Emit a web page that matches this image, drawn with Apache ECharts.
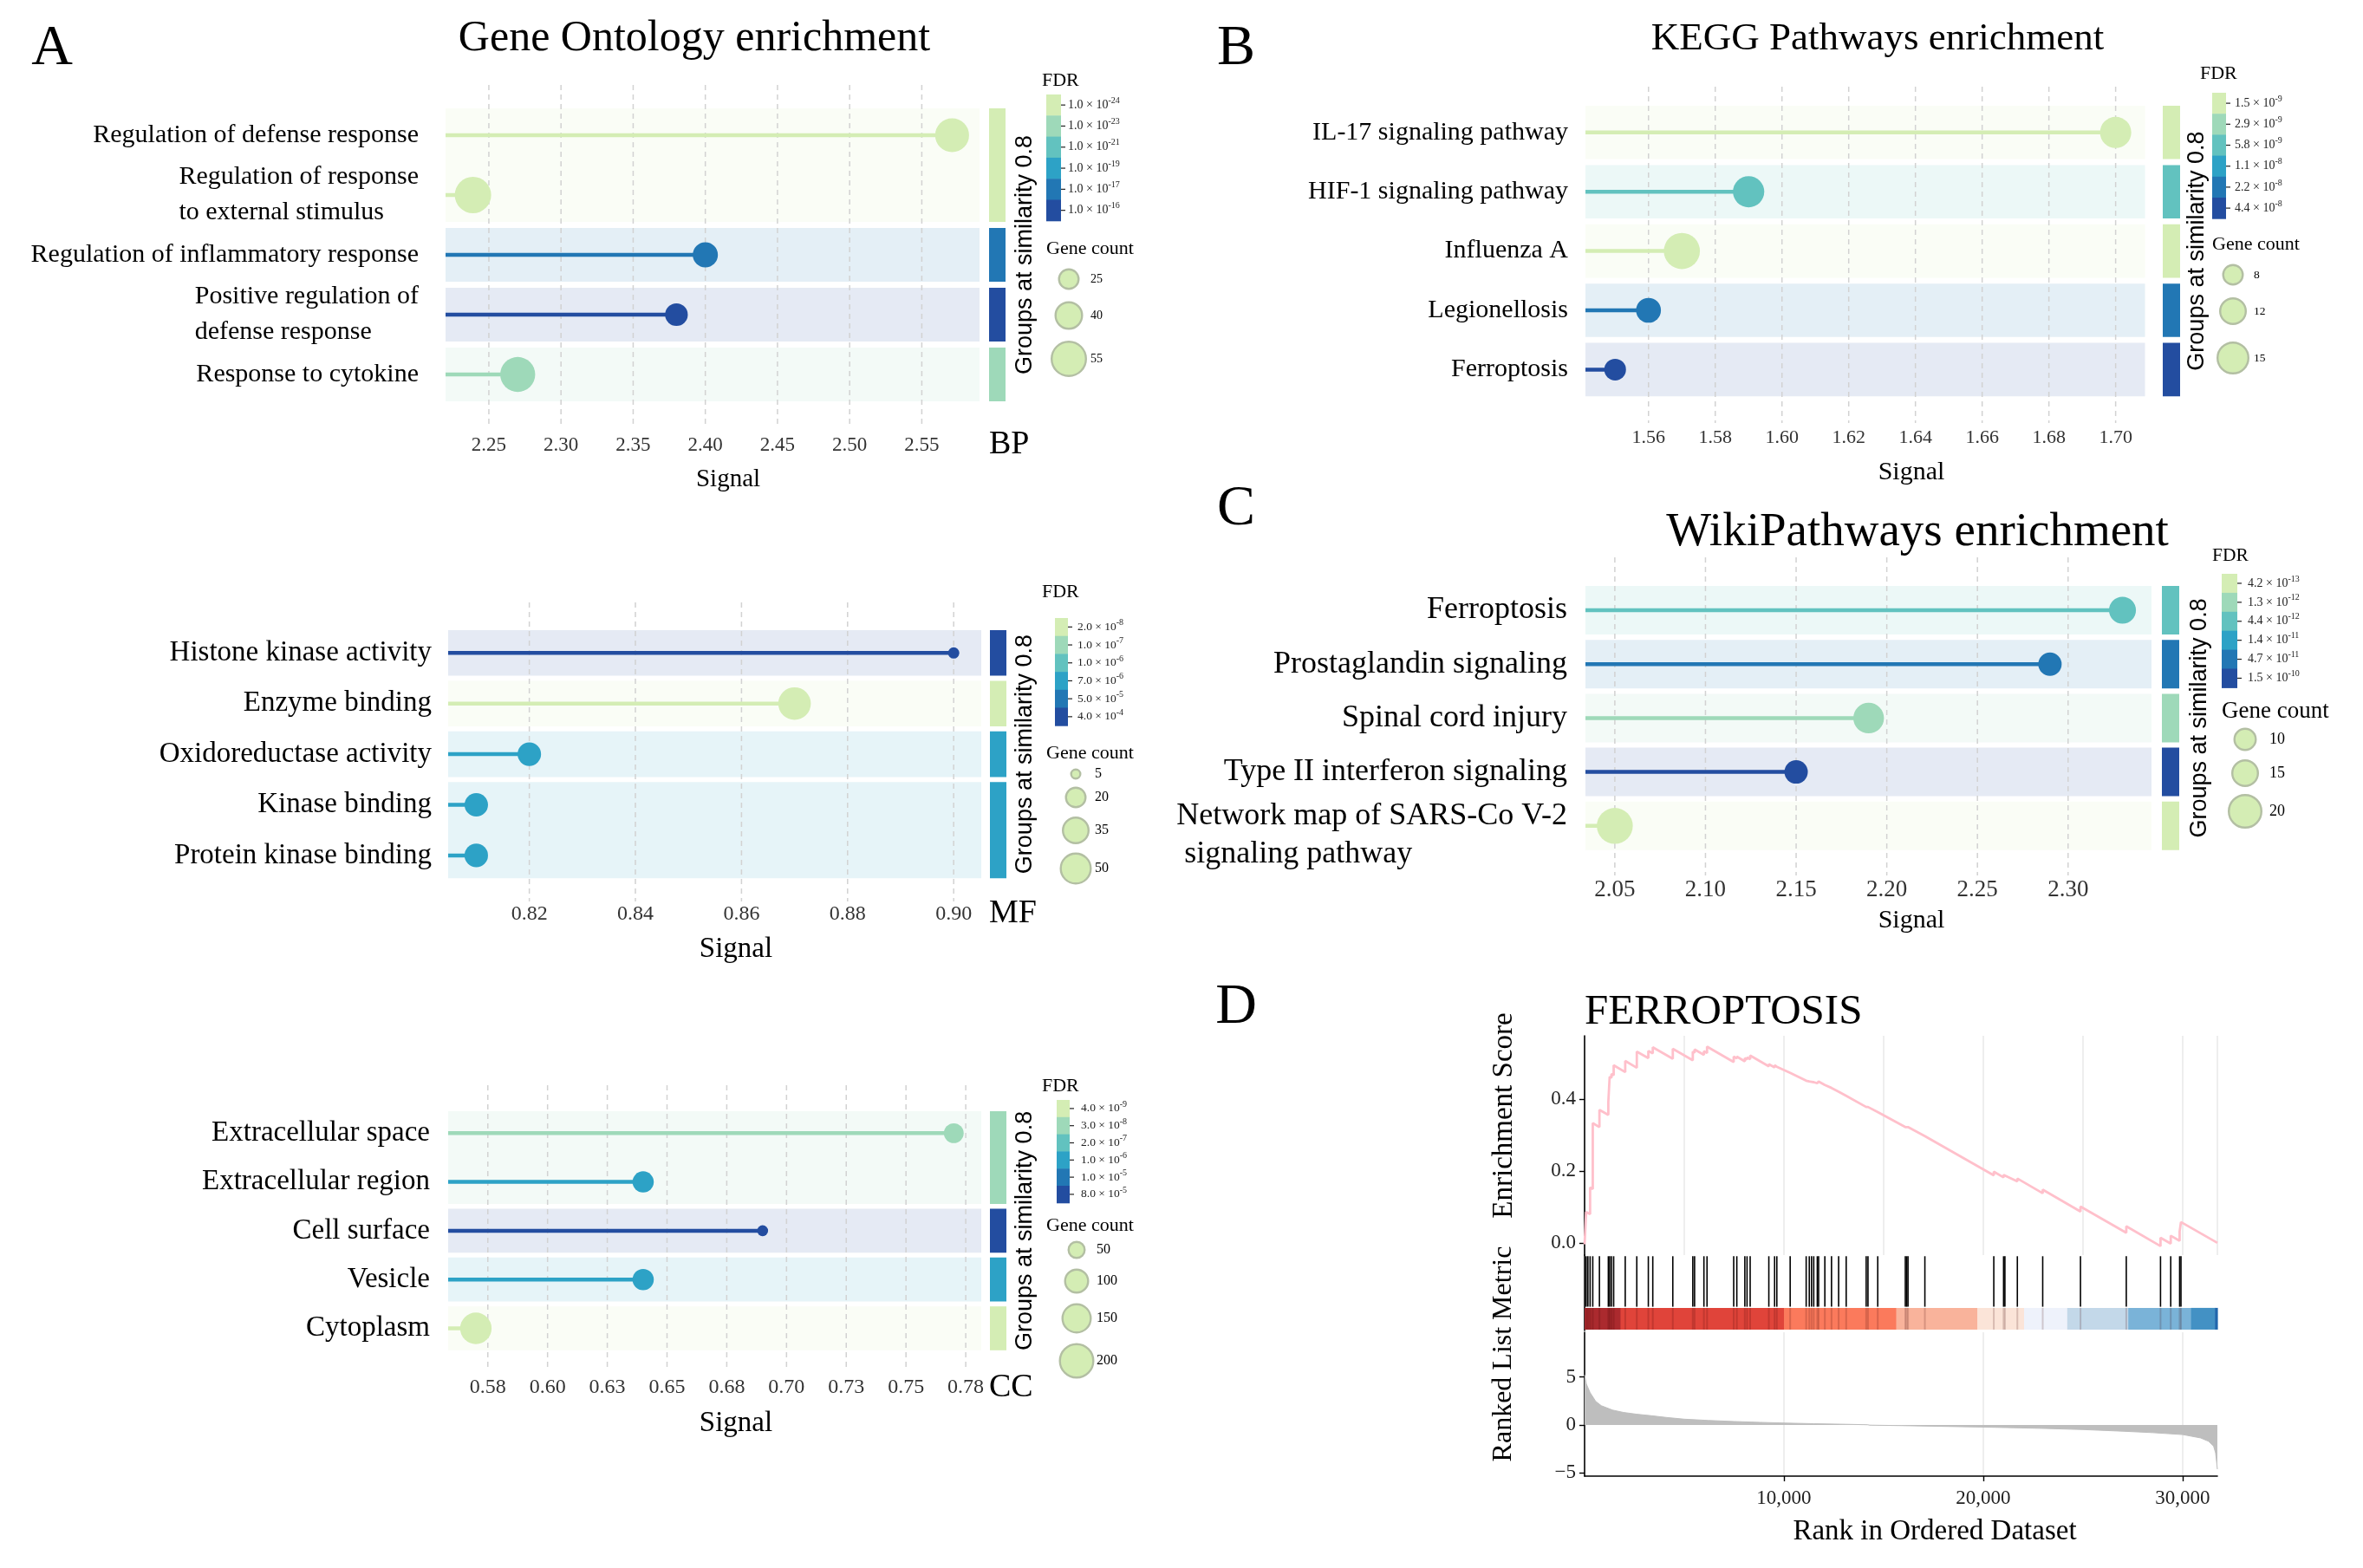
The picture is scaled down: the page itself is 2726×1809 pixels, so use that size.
<!DOCTYPE html>
<html><head><meta charset="utf-8">
<script src="https://cdn.jsdelivr.net/npm/echarts@6/dist/echarts.min.js"></script>
<style>html,body{margin:0;padding:0;background:#fff}#c{width:2726px;height:1809px}</style>
</head><body><div id="c"></div>
<script>
// ===================== DATA =====================
// FDR colour classes (lightest -> darkest)
const PAL = ['#d4edb4', '#9ed9b9', '#62c2bf', '#2da2c6', '#2277b4', '#234da0'];

// A - GO BP
const bpTerms = ['Regulation of defense response', 'Regulation of response\nto external stimulus', 'Regulation of inflammatory response', 'Positive regulation of\ndefense response', 'Response to cytokine'];
const bpSignal = [2.571, 2.239, 2.400, 2.380, 2.270];
const bpGeneCount = [50, 55, 32, 27, 52];
const bpFdrClass = [0, 0, 4, 5, 1];
const bpGroups = [[0, 1, 0], [2, 2, 4], [3, 3, 5], [4, 4, 1]];
const bpTicks = [2.25, 2.30, 2.35, 2.40, 2.45, 2.50, 2.55];
const bpTickLabels = ['2.25', '2.30', '2.35', '2.40', '2.45', '2.50', '2.55'];
const bpFdrLegend = [['1.0', '-24'], ['1.0', '-23'], ['1.0', '-21'], ['1.0', '-19'], ['1.0', '-17'], ['1.0', '-16']];
const bpCountLegend = [25, 40, 55];

// A - GO MF
const mfTerms = ['Histone kinase activity', 'Enzyme binding', 'Oxidoreductase activity', 'Kinase binding', 'Protein kinase binding'];
const mfSignal = [0.900, 0.870, 0.820, 0.810, 0.810];
const mfGeneCount = [5, 52, 24, 24, 24];
const mfFdrClass = [5, 0, 3, 3, 3];
const mfGroups = [[0, 0, 5], [1, 1, 0], [2, 2, 3], [3, 4, 3]];
const mfTicks = [0.82, 0.84, 0.86, 0.88, 0.90];
const mfTickLabels = ['0.82', '0.84', '0.86', '0.88', '0.90'];
const mfFdrLegend = [['2.0', '-8'], ['1.0', '-7'], ['1.0', '-6'], ['7.0', '-6'], ['5.0', '-5'], ['4.0', '-4']];
const mfCountLegend = [5, 20, 35, 50];

// A - GO CC
const ccTerms = ['Extracellular space', 'Extracellular region', 'Cell surface', 'Vesicle', 'Cytoplasm'];
const ccSignal = [0.770, 0.640, 0.690, 0.640, 0.570];
const ccGeneCount = [60, 70, 16, 70, 160];
const ccFdrClass = [1, 3, 5, 3, 0];
const ccGroups = [[0, 1, 1], [2, 2, 5], [3, 3, 3], [4, 4, 0]];
const ccTicks = [0.575, 0.600, 0.625, 0.650, 0.675, 0.700, 0.725, 0.750, 0.775];
const ccTickLabels = ['0.58', '0.60', '0.63', '0.65', '0.68', '0.70', '0.73', '0.75', '0.78'];
const ccFdrLegend = [['4.0', '-9'], ['3.0', '-8'], ['2.0', '-7'], ['1.0', '-6'], ['1.0', '-5'], ['8.0', '-5']];
const ccCountLegend = [50, 100, 150, 200];

// B - KEGG
const keggTerms = ['IL-17 signaling pathway', 'HIF-1 signaling pathway', 'Influenza A', 'Legionellosis', 'Ferroptosis'];
const keggSignal = [1.700, 1.590, 1.570, 1.560, 1.550];
const keggGeneCount = [14, 14, 17, 10, 8];
const keggFdrClass = [0, 2, 0, 4, 5];
const keggGroups = [[0, 0, 0], [1, 1, 2], [2, 2, 0], [3, 3, 4], [4, 4, 5]];
const keggTicks = [1.56, 1.58, 1.60, 1.62, 1.64, 1.66, 1.68, 1.70];
const keggTickLabels = ['1.56', '1.58', '1.60', '1.62', '1.64', '1.66', '1.68', '1.70'];
const keggFdrLegend = [['1.5', '-9'], ['2.9', '-9'], ['5.8', '-9'], ['1.1', '-8'], ['2.2', '-8'], ['4.4', '-8']];
const keggCountLegend = [8, 12, 15];

// C - WikiPathways
const wikiTerms = ['Ferroptosis', 'Prostaglandin signaling', 'Spinal cord injury', 'Type II interferon signaling', 'Network map of SARS-Co V-2\n signaling pathway'];
const wikiSignal = [2.330, 2.290, 2.190, 2.150, 2.050];
const wikiGeneCount = [14, 10, 17, 10, 21];
const wikiFdrClass = [2, 4, 1, 5, 0];
const wikiGroups = [[0, 0, 2], [1, 1, 4], [2, 2, 1], [3, 3, 5], [4, 4, 0]];
const wikiTicks = [2.05, 2.10, 2.15, 2.20, 2.25, 2.30];
const wikiTickLabels = ['2.05', '2.10', '2.15', '2.20', '2.25', '2.30'];
const wikiFdrLegend = [['4.2', '-13'], ['1.3', '-12'], ['4.4', '-12'], ['1.4', '-11'], ['4.7', '-11'], ['1.5', '-10']];
const wikiCountLegend = [10, 15, 20];

// D - GSEA FERROPTOSIS
const gseaN = 31740;
const esCurve = [[0,-0.004],[76,-0.006],[76,0.086],[277,0.080],[277,0.154],[411,0.150],[411,0.333],[745,0.322],[745,0.370],[1191,0.356],[1191,0.392],[1258,0.390],[1258,0.462],[1348,0.459],[1348,0.470],[1459,0.466],[1459,0.494],[2039,0.475],[2039,0.506],[2619,0.487],[2619,0.532],[3198,0.514],[3198,0.534],[3421,0.527],[3421,0.544],[4425,0.512],[4425,0.540],[5428,0.508],[5428,0.532],[5518,0.529],[5518,0.538],[5986,0.523],[5986,0.533],[6142,0.528],[6142,0.546],[7480,0.503],[7480,0.518],[7636,0.513],[7636,0.518],[8038,0.505],[8038,0.514],[8149,0.510],[8149,0.516],[8305,0.511],[8305,0.521],[9242,0.491],[9242,0.497],[9532,0.488],[9532,0.494],[9643,0.490],[9643,0.494],[10312,0.473],[10312,0.477],[11115,0.451],[11115,0.454],[11271,0.449],[11271,0.452],[11383,0.448],[11383,0.451],[11494,0.447],[11494,0.450],[11672,0.444],[11672,0.448],[11739,0.446],[11739,0.449],[12052,0.439],[12052,0.442],[12386,0.431],[12386,0.432],[12743,0.4205],[12743,0.4215],[13122,0.409],[13122,0.410],[14125,0.378],[14125,0.381],[14215,0.378],[14215,0.380],[14705,0.364],[14705,0.366],[16088,0.322],[16088,0.324],[16155,0.322],[16155,0.324],[16222,0.322],[16222,0.324],[17069,0.297],[17069,0.299],[20526,0.188],[20526,0.198],[21016,0.182],[21016,0.189],[21083,0.187],[21083,0.191],[21707,0.171],[21707,0.179],[22979,0.138],[22979,0.148],[24874,0.087],[24874,0.101],[27171,0.028],[27171,0.046],[28888,-0.009],[28888,0.014],[29401,-0.002],[29401,0.020],[29847,0.006],[29847,0.032],[29914,0.030],[29914,0.058],[31740,0.000]];
const hitRanks = [76,166,277,411,745,1191,1258,1348,1459,2039,2619,3198,3421,4425,5428,5518,5986,6142,7480,7636,8038,8149,8305,9242,9532,9643,10312,11115,11271,11383,11494,11672,11739,12052,12386,12743,13122,14125,14215,14705,16088,16155,16222,17069,20526,21016,21083,21707,22979,24874,27171,28888,29401,29847,29914];
const bandStart = [0, 1800, 10000, 15630, 19700, 22045, 24210, 27270, 30420, 31620];
const bandEnd = [1800, 10000, 15630, 19700, 22045, 24210, 27270, 30420, 31620, 31740];
const bandColors = ['#ab2a2e', '#e0443a', '#fb7a5c', '#f9b39b', '#fbe4d8', '#eef2fb', '#c3d8e9', '#7ab3d8', '#4391c4', '#2166ac'];
const rankMetric = [[0,5.2],[90,4.25],[280,3.35],[560,2.45],[840,2.0],[1400,1.55],[1950,1.3],[2600,1.12],[3350,0.96],[4100,0.78],[5000,0.6],[6200,0.47],[7500,0.36],[8800,0.27],[10000,0.2],[11500,0.13],[13100,0.07],[14200,0.02],[14300,-0.02],[15900,-0.07],[18000,-0.15],[20000,-0.22],[22800,-0.35],[25000,-0.48],[27000,-0.65],[28500,-0.80],[30000,-1.0],[30900,-1.35],[31300,-1.7],[31550,-2.2],[31650,-2.9],[31700,-3.8],[31740,-4.6]];
const esTicks = [0, 0.2, 0.4];
const esTickLabels = ['0.0', '0.2', '0.4'];
const metricTicks = [-5, 0, 5];
const metricTickLabels = ['\u22125', '0', '5'];
const rankTicks = [10000, 20000, 30000];
const rankTickLabels = ['10,000', '20,000', '30,000'];

// ===================== LAYOUT / STYLE =====================
const SERIF = '"Liberation Serif", "Times New Roman", serif';
const SANS = '"Liberation Sans", Arial, sans-serif';
const LAY = {
  bp: {left:514, right:1130, top:98, bottom:494, firstY:156, pitch:69, xMin:2.220, xMax:2.590, labFont:30, labMargin:29, lineH:41, lift:0, tickFont:23, tickMargin:8, barGap:11, barW:19,
       sig:[840,553,29], tag:[1141,513,38], grpX:1183,
       fdr:{tx:1202, ty:93, tf:22, bx:1207, bw:17, by:109, bh:24.3, lx:1232, lf:14},
       gene:{tx:1207, ty:287, tf:22, cx:1233, cy:[322,364,414], d:[25,33,42], lx:1258, lf:14}},
  mf: {left:517, right:1132, top:695, bottom:1040, firstY:753.3, pitch:58.4, xMin:0.8047, xMax:0.9052, labFont:33, labMargin:17, lineH:44, lift:0, tickFont:24, tickMargin:3, barGap:10, barW:19,
       sig:[849,1095,33], tag:[1141,1054,38], grpX:1183,
       fdr:{tx:1202, ty:683, tf:22, bx:1217, bw:15, by:713, bh:20.7, lx:1243, lf:13.5},
       gene:{tx:1207, ty:869, tf:22, cx:1241, cy:[893,920,958,1002], d:[13,25,32,37], lx:1263, lf:16}},
  cc: {left:517, right:1132, top:1252, bottom:1580, firstY:1307.3, pitch:56.3, xMin:0.5584, xMax:0.7815, labFont:33, labMargin:19, lineH:44, lift:0, tickFont:24, tickMargin:9, barGap:10, barW:19,
       sig:[849,1642,33], tag:[1141,1601,38], grpX:1183,
       fdr:{tx:1202, ty:1253, tf:22, bx:1219, bw:15, by:1269, bh:19.8, lx:1247, lf:13.5},
       gene:{tx:1207, ty:1414, tf:22, cx:1242, cy:[1442,1478,1521,1570], d:[21,29,35,41], lx:1265, lf:16}},
  kegg: {left:1829, right:2474.5, top:100, bottom:488, firstY:152.8, pitch:68.4, xMin:1.5411, xMax:1.7088, labFont:30, labMargin:18, lineH:40, lift:0, tickFont:22, tickMargin:6, barGap:20.5, barW:20,
       sig:[2205,545,30], tag:null, grpX:2535,
       fdr:{tx:2538, ty:85, tf:22, bx:2552, bw:16, by:107, bh:24.2, lx:2578, lf:14},
       gene:{tx:2552, ty:282, tf:22, cx:2576, cy:[317,359,413], d:[25,32,38], lx:2600, lf:13.5}},
  wiki: {left:1829, right:2482, top:643, bottom:1010, firstY:704, pitch:62.2, xMin:2.0338, xMax:2.3460, labFont:36, labMargin:19, lineH:44, lift:22, tickFont:27, tickMargin:3, barGap:12, barW:20,
       sig:[2205,1062,30], tag:null, grpX:2538,
       fdr:{tx:2552, ty:641, tf:21.5, bx:2563, bw:18, by:662, bh:21.9, lx:2593, lf:14},
       gene:{tx:2563, ty:821, tf:27, cx:2590, cy:[853,892,936], d:[27,32,40], lx:2618, lf:18}}
};

const panels = [
  {terms:bpTerms, signal:bpSignal, counts:bpGeneCount, cls:bpFdrClass, groups:bpGroups, ticks:bpTicks, tickLabels:bpTickLabels, fdr:bpFdrLegend, legCounts:bpCountLegend, tagText:'BP', L:LAY.bp},
  {terms:mfTerms, signal:mfSignal, counts:mfGeneCount, cls:mfFdrClass, groups:mfGroups, ticks:mfTicks, tickLabels:mfTickLabels, fdr:mfFdrLegend, legCounts:mfCountLegend, tagText:'MF', L:LAY.mf},
  {terms:ccTerms, signal:ccSignal, counts:ccGeneCount, cls:ccFdrClass, groups:ccGroups, ticks:ccTicks, tickLabels:ccTickLabels, fdr:ccFdrLegend, legCounts:ccCountLegend, tagText:'CC', L:LAY.cc},
  {terms:keggTerms, signal:keggSignal, counts:keggGeneCount, cls:keggFdrClass, groups:keggGroups, ticks:keggTicks, tickLabels:keggTickLabels, fdr:keggFdrLegend, legCounts:keggCountLegend, tagText:null, L:LAY.kegg},
  {terms:wikiTerms, signal:wikiSignal, counts:wikiGeneCount, cls:wikiFdrClass, groups:wikiGroups, ticks:wikiTicks, tickLabels:wikiTickLabels, fdr:wikiFdrLegend, legCounts:wikiCountLegend, tagText:null, L:LAY.wiki}
];

// ===================== HELPERS =====================
const _ctx = document.createElement('canvas').getContext('2d');
function textW(s, size, fam) { _ctx.font = size + 'px ' + fam; return _ctx.measureText(s).width; }
function nearest(arr, v) { let bi = 0; arr.forEach((a, i) => { if (Math.abs(a - v) < Math.abs(arr[bi] - v)) bi = i; }); return bi; }
function tint(hex, a) {
  const n = parseInt(hex.slice(1), 16), r = n >> 16, g = (n >> 8) & 255, b = n & 255;
  const m = c => Math.round(255 - a * (255 - c));
  return 'rgb(' + m(r) + ',' + m(g) + ',' + m(b) + ')';
}
function sizeScale(counts, sizes) {
  const xs = counts.map(Math.sqrt);
  return c => { const x = Math.sqrt(c); let i = 0; while (i < xs.length - 2 && x > xs[i + 1]) i++; return sizes[i] + (x - xs[i]) * (sizes[i + 1] - sizes[i]) / (xs[i + 1] - xs[i]); };
}
function T(x, y, text, size, o) {
  o = o || {};
  const al = o.align || 'center';
  const st = {text: text, fontSize: size, fontFamily: o.fam || SERIF, fill: o.color || '#000', align: al, verticalAlign: 'middle', textAlign: al, textVerticalAlign: 'middle'};
  if (o.rich) st.rich = o.rich;
  return {type: 'text', x: x, y: y, rotation: o.rot || 0, silent: true, z: 100, style: st};
}
function tickLabel(ticks, labels, size, margin, color) {
  return {customValues: ticks, margin: margin, hideOverlap: false,
    formatter: v => '{v|' + labels[nearest(ticks, v)] + '}',
    rich: {v: {fontFamily: SERIF, fontSize: size, color: color || '#333'}}};
}

const grid = [], xAxis = [], yAxis = [], series = [], graphic = [];

// ===================== LOLLIPOP PANELS =====================
panels.forEach((P, gi) => {
  const L = P.L;
  const yMin = (L.top - L.firstY) / L.pitch, yMax = (L.bottom - L.firstY) / L.pitch;
  grid.push({left: L.left, top: L.top, width: L.right - L.left, height: L.bottom - L.top, containLabel: false, outerBoundsMode: 'none'});
  const rich = {e: {fontSize: 4, lineHeight: Math.max(L.lift, 1), width: 1}};
  P.terms.forEach((t, i) => {
    const w = Math.max.apply(null, t.split('\n').map(s => textW(s, L.labFont, SERIF))) + 2;
    rich['t' + i] = {width: w, align: 'left', fontSize: L.labFont, fontFamily: SERIF, lineHeight: L.lineH, color: '#000'};
  });
  xAxis.push({gridIndex: gi, type: 'value', min: L.xMin, max: L.xMax,
    axisLine: {show: false}, axisTick: {show: false}, splitLine: {show: false},
    axisLabel: tickLabel(P.ticks, P.tickLabels, L.tickFont, L.tickMargin)});
  // the empty boundary labels (at yMin / yMax) absorb ECharts' min/max-label overlap check
  const rowVals = [yMin].concat(P.terms.map((_, i) => i), [yMax]);
  yAxis.push({gridIndex: gi, type: 'value', inverse: true, min: yMin, max: yMax,
    axisLine: {show: false}, axisTick: {show: false}, splitLine: {show: false},
    axisLabel: {customValues: rowVals, margin: L.labMargin, align: 'right', rich: rich, hideOverlap: false,
      formatter: v => {
        const i = Math.round(v);
        if (Math.abs(v - i) > 0.001 || i < 0 || i >= P.terms.length) return '';
        const lines = P.terms[i].split('\n');
        const body = lines.map(s => '{t' + i + '|' + s + '}').join('\n');
        return (lines.length > 1 && L.lift) ? '{e| }\n' + body : body;
      }}});

  // row bands + group bars
  series.push({type: 'custom', xAxisIndex: gi, yAxisIndex: gi, z: 1, silent: true, clip: false, data: P.groups,
    renderItem: (params, api) => {
      const s = api.value(0), e = api.value(1), c = PAL[api.value(2)];
      const a = api.coord([L.xMin, s - 0.45]), b = api.coord([L.xMax, e + 0.45]);
      const y0 = Math.min(a[1], b[1]), h = Math.abs(b[1] - a[1]);
      return {type: 'group', children: [
        {type: 'rect', shape: {x: a[0], y: y0, width: b[0] - a[0], height: h}, style: {fill: tint(c, 0.12)}},
        {type: 'rect', shape: {x: b[0] + L.barGap, y: y0, width: L.barW, height: h}, style: {fill: c}}
      ]};
    }});
  // dashed grid lines at ticks
  series.push({type: 'custom', xAxisIndex: gi, yAxisIndex: gi, z: 2, silent: true, clip: false, data: P.ticks.map(t => [t, 0]),
    renderItem: (params, api) => {
      const t = api.value(0); const a = api.coord([t, yMin]), b = api.coord([t, yMax]);
      return {type: 'line', shape: {x1: a[0], y1: a[1], x2: b[0], y2: b[1]}, style: {stroke: '#d2d2d2', lineWidth: 1.5, lineDash: [6, 5]}};
    }});
  const pts = P.signal.map((v, i) => [v, i, P.counts[i], P.cls[i]]);
  // stems
  series.push({type: 'custom', xAxisIndex: gi, yAxisIndex: gi, z: 3, silent: true, clip: false, data: pts,
    renderItem: (params, api) => {
      const r = api.value(1); const a = api.coord([L.xMin, r]), b = api.coord([api.value(0), r]);
      return {type: 'line', shape: {x1: a[0], y1: a[1], x2: b[0], y2: b[1]}, style: {stroke: PAL[api.value(3)], lineWidth: 4.5}};
    }});
  const sizeOf = sizeScale(P.legCounts, L.gene.d);
  series.push({type: 'scatter', xAxisIndex: gi, yAxisIndex: gi, z: 4, silent: true, data: pts,
    symbol: 'circle', symbolSize: v => sizeOf(v[2]), itemStyle: {color: p => PAL[p.value[3]], opacity: 1}});

  // texts
  graphic.push(T(L.sig[0], L.sig[1], 'Signal', L.sig[2]));
  if (P.tagText) graphic.push(T(L.tag[0], L.tag[1], P.tagText, L.tag[2], {align: 'left'}));
  graphic.push(T(L.grpX, L.firstY + 2 * L.pitch, 'Groups at similarity 0.8', 27, {fam: SANS, rot: Math.PI / 2}));
  // FDR legend
  const F = L.fdr;
  graphic.push(T(F.tx, F.ty, 'FDR', F.tf, {align: 'left'}));
  P.fdr.forEach((lab, k) => {
    const cy = F.by + F.bh * (k + 0.5);
    graphic.push({type: 'rect', silent: true, z: 90, shape: {x: F.bx, y: F.by + F.bh * k, width: F.bw, height: F.bh + 0.5}, style: {fill: PAL[k]}});
    graphic.push({type: 'line', silent: true, z: 91, shape: {x1: F.bx + F.bw, y1: cy, x2: F.bx + F.bw + 5, y2: cy}, style: {stroke: '#222', lineWidth: 1.2}});
    const sf = Math.round(F.lf * 0.72);
    graphic.push(T(F.lx, cy, '{m|' + lab[0] + ' \u00d7 10}{s|' + lab[1] + '}', F.lf, {align: 'left', rich: {
      m: {fontSize: F.lf, fontFamily: SERIF, fill: '#222', color: '#222', lineHeight: F.lf + 6},
      s: {fontSize: sf, fontFamily: SERIF, fill: '#222', color: '#222', lineHeight: sf, verticalAlign: 'top'}}}));
  });
  // Gene count legend
  const G = L.gene;
  graphic.push(T(G.tx, G.ty, 'Gene count', G.tf, {align: 'left'}));
  P.legCounts.forEach((c, k) => {
    graphic.push({type: 'circle', silent: true, z: 90, shape: {cx: G.cx, cy: G.cy[k], r: G.d[k] / 2 - 1.2}, style: {fill: PAL[0], stroke: '#b3bfa3', lineWidth: 2.4}});
    graphic.push(T(G.lx, G.cy[k], String(c), G.lf, {align: 'left'}));
  });
});

// ===================== D: GSEA =====================
const g0 = grid.length;
const DL = {left: 1828, width: 730};
grid.push({left: DL.left, width: DL.width, top: 1195, height: 253, containLabel: false, outerBoundsMode: 'none'});
grid.push({left: DL.left, width: DL.width, top: 1448, height: 87, containLabel: false, outerBoundsMode: 'none'});
grid.push({left: DL.left, width: DL.width, top: 1537, height: 166, containLabel: false, outerBoundsMode: 'none'});
const blackLine = {show: true, onZero: false, lineStyle: {color: '#000', width: 1.6}};
const vGrid = {show: true, lineStyle: {color: '#e8e8e8', width: 1.5}};
xAxis.push({gridIndex: g0, type: 'value', min: 0, max: gseaN, interval: 5000, axisLine: {show: false}, axisTick: {show: false}, axisLabel: {show: false}, splitLine: vGrid});
xAxis.push({gridIndex: g0 + 1, type: 'value', min: 0, max: gseaN, axisLine: {show: false}, axisTick: {show: false}, axisLabel: {show: false}, splitLine: {show: false}});
xAxis.push({gridIndex: g0 + 2, type: 'value', min: 0, max: gseaN, interval: 5000, axisLine: blackLine,
  axisTick: {show: true, customValues: rankTicks, length: 6, lineStyle: {color: '#000', width: 1.4}},
  axisLabel: tickLabel(rankTicks, rankTickLabels, 23, 14, '#222'),
  splitLine: vGrid});
yAxis.push({gridIndex: g0, type: 'value', min: -0.034, max: 0.576, axisLine: blackLine,
  axisTick: {show: true, customValues: esTicks, length: 6, lineStyle: {color: '#000', width: 1.4}},
  axisLabel: tickLabel(esTicks, esTickLabels, 23, 10, '#222'),
  splitLine: {show: false}});
yAxis.push({gridIndex: g0 + 1, type: 'value', min: 0, max: 1, axisLine: blackLine, axisTick: {show: false}, axisLabel: {show: false}, splitLine: {show: false}});
yAxis.push({gridIndex: g0 + 2, type: 'value', min: -5.32, max: 9.64, axisLine: blackLine,
  axisTick: {show: true, customValues: metricTicks, length: 6, lineStyle: {color: '#000', width: 1.4}},
  axisLabel: tickLabel(metricTicks, metricTickLabels, 23, 10, '#222'),
  splitLine: {show: false}});

series.push({type: 'line', xAxisIndex: g0, yAxisIndex: g0, data: esCurve, showSymbol: false, symbol: 'none', silent: true, z: 3,
  lineStyle: {color: '#ffc0cb', width: 2.8}});
series.push({type: 'custom', xAxisIndex: g0 + 1, yAxisIndex: g0 + 1, z: 2, silent: true, clip: false,
  data: bandStart.map((s, i) => [s, bandEnd[i], i]),
  renderItem: (params, api) => {
    const a = api.coord([api.value(0), 0.30]), b = api.coord([api.value(1), 0.012]);
    return {type: 'rect', shape: {x: a[0], y: a[1], width: b[0] - a[0] + 0.6, height: b[1] - a[1]}, style: {fill: bandColors[api.value(2)]}};
  }});
series.push({type: 'custom', xAxisIndex: g0 + 1, yAxisIndex: g0 + 1, z: 3, silent: true, clip: false,
  data: hitRanks.map(r => [r, 0.5]),
  renderItem: (params, api) => {
    const r = api.value(0);
    const a = api.coord([r, 0.985]), b = api.coord([r, 0.315]);
    const c = api.coord([r, 0.30]), d = api.coord([r, 0.012]);
    return {type: 'group', children: [
      {type: 'line', shape: {x1: a[0], y1: a[1], x2: b[0], y2: b[1]}, style: {stroke: '#000', lineWidth: 1.6}},
      {type: 'line', shape: {x1: c[0], y1: c[1], x2: d[0], y2: d[1]}, style: {stroke: 'rgba(60,0,0,0.18)', lineWidth: 2}}
    ]};
  }});
series.push({type: 'line', xAxisIndex: g0 + 2, yAxisIndex: g0 + 2, data: rankMetric, showSymbol: false, symbol: 'none', silent: true, z: 2,
  lineStyle: {color: '#bebebe', width: 1}, areaStyle: {color: '#bebebe', opacity: 1}});

// ===================== TITLES / LABELS =====================
graphic.push(T(60, 57, 'A', 66));
graphic.push(T(1426, 57, 'B', 66));
graphic.push(T(1426, 588, 'C', 66));
graphic.push(T(1426, 1163, 'D', 66));
graphic.push(T(801, 45, 'Gene Ontology enrichment', 50));
graphic.push(T(2166, 45, 'KEGG Pathways enrichment', 45));
graphic.push(T(2212, 615, 'WikiPathways enrichment', 55));
graphic.push(T(1828, 1168, 'FERROPTOSIS', 49, {align: 'left'}));
graphic.push(T(1735, 1287, 'Enrichment Score', 33, {rot: Math.PI / 2}));
graphic.push(T(1735, 1562, 'Ranked List Metric', 32, {rot: Math.PI / 2}));
graphic.push(T(2232, 1767, 'Rank in Ordered Dataset', 33));

const chart = echarts.init(document.getElementById('c'), null, {renderer: 'canvas'});
chart.setOption({
  animation: false,
  backgroundColor: '#ffffff',
  textStyle: {fontFamily: SERIF},
  grid: grid, xAxis: xAxis, yAxis: yAxis, series: series,
  graphic: {elements: graphic}
});
</script></body></html>
